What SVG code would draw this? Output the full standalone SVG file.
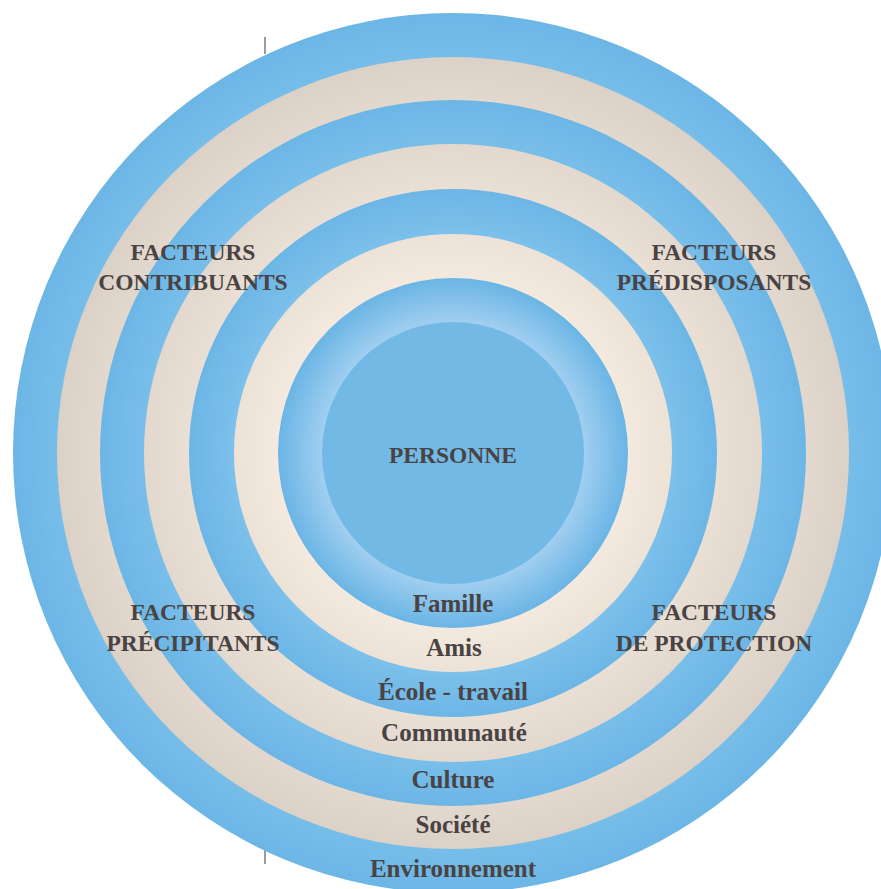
<svg xmlns="http://www.w3.org/2000/svg" width="881" height="889" viewBox="0 0 881 889">
  <style>
    .lbl { font-family: "Liberation Serif", "Times New Roman", serif; font-weight: bold; fill: #4a4343; text-anchor: middle; }
    .fac { font-size: 23.5px; }
    .ring { font-size: 25px; }
    .tick { stroke: #7a7a7a; stroke-width: 1.5; }
  </style>
  <defs>
    <radialGradient id="g1" gradientUnits="userSpaceOnUse" cx="453" cy="453" r="440">
      <stop offset="0.9" stop-color="#76bde9"/>
      <stop offset="1" stop-color="#6cb6e6"/>
    </radialGradient>
    <radialGradient id="g2" gradientUnits="userSpaceOnUse" cx="453" cy="453" r="396">
      <stop offset="0.891" stop-color="#e2d8ce"/>
      <stop offset="1" stop-color="#dcd1c6"/>
    </radialGradient>
    <radialGradient id="g3" gradientUnits="userSpaceOnUse" cx="453" cy="453" r="353">
      <stop offset="0.875" stop-color="#78beea"/>
      <stop offset="1" stop-color="#6cb6e6"/>
    </radialGradient>
    <radialGradient id="g4" gradientUnits="userSpaceOnUse" cx="453" cy="453" r="309">
      <stop offset="0.854" stop-color="#e9dfd4"/>
      <stop offset="1" stop-color="#e3d8cd"/>
    </radialGradient>
    <radialGradient id="g5" gradientUnits="userSpaceOnUse" cx="453" cy="453" r="264">
      <stop offset="0.83" stop-color="#7cc0eb"/>
      <stop offset="1" stop-color="#6cb6e6"/>
    </radialGradient>
    <radialGradient id="g6" gradientUnits="userSpaceOnUse" cx="453" cy="453" r="219">
      <stop offset="0.8" stop-color="#f3e9de"/>
      <stop offset="1" stop-color="#ede2d6"/>
    </radialGradient>
    <radialGradient id="g7" gradientUnits="userSpaceOnUse" cx="453" cy="453" r="175">
      <stop offset="0.75" stop-color="#a0cef0"/>
      <stop offset="1" stop-color="#6ab5e5"/>
    </radialGradient>
  </defs>
  <rect width="881" height="889" fill="#ffffff"/>
  <g id="ticks">
    <line class="tick" x1="265" y1="37" x2="265" y2="54"/>
    <line class="tick" x1="265" y1="849" x2="265" y2="864"/>
  </g>
  <g id="environnement"><circle cx="453" cy="453" r="440" fill="url(#g1)"/></g>
  <g id="societe"><circle cx="453" cy="453" r="396" fill="url(#g2)"/></g>
  <g id="culture"><circle cx="453" cy="453" r="353" fill="url(#g3)"/></g>
  <g id="communaute"><circle cx="453" cy="453" r="309" fill="url(#g4)"/></g>
  <g id="ecole"><circle cx="453" cy="453" r="264" fill="url(#g5)"/></g>
  <g id="amis"><circle cx="453" cy="453" r="219" fill="url(#g6)"/></g>
  <g id="famille"><circle cx="453" cy="453" r="175" fill="url(#g7)"/></g>
  <g id="personne">
    <circle cx="453" cy="453" r="131" fill="#72b9e6"/>
    <text class="lbl fac" x="453" y="463">PERSONNE</text>
  </g>
  <g id="ring-labels">
    <text class="lbl ring" x="453" y="612">Famille</text>
    <text class="lbl ring" x="454" y="656">Amis</text>
    <text class="lbl ring" x="453" y="700">École - travail</text>
    <text class="lbl ring" x="454" y="741">Communauté</text>
    <text class="lbl ring" x="453" y="788">Culture</text>
    <text class="lbl ring" x="453" y="833">Société</text>
    <text class="lbl ring" x="453" y="877">Environnement</text>
  </g>
  <g id="facteurs-contribuants">
    <text class="lbl fac" x="193" y="260">FACTEURS</text>
    <text class="lbl fac" x="193" y="290">CONTRIBUANTS</text>
  </g>
  <g id="facteurs-predisposants">
    <text class="lbl fac" x="714" y="260">FACTEURS</text>
    <text class="lbl fac" x="714" y="290">PRÉDISPOSANTS</text>
  </g>
  <g id="facteurs-precipitants">
    <text class="lbl fac" x="193" y="620">FACTEURS</text>
    <text class="lbl fac" x="193" y="651">PRÉCIPITANTS</text>
  </g>
  <g id="facteurs-protection">
    <text class="lbl fac" x="714" y="620">FACTEURS</text>
    <text class="lbl fac" x="714" y="651">DE PROTECTION</text>
  </g>
</svg>
